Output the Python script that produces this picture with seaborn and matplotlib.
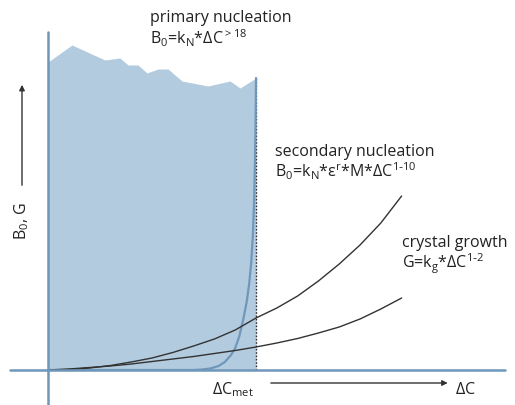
import numpy as np
import pandas as pd
import matplotlib
matplotlib.use("Agg")
import matplotlib.pyplot as plt
import seaborn as sns

# x in units of dC_met, y in arbitrary rate units
top_x = [0.0, 0.115, 0.274, 0.346, 0.385, 0.433, 0.476, 0.529, 0.577, 0.644, 0.769, 0.875, 0.923, 1.0]
top_y = [3.08, 3.25, 3.10, 3.12, 3.05, 3.05, 2.97, 3.01, 3.01, 2.89, 2.84, 2.89, 2.82, 2.92]

prim_x = [0.0, 0.70, 0.74, 0.78, 0.82, 0.85, 0.88, 0.90, 0.92, 0.94, 0.955, 0.967, 0.977, 0.985, 0.991, 0.995, 0.998, 1.0]
prim_y = [0.0, 0.0, 0.005, 0.015, 0.04, 0.08, 0.15, 0.22, 0.34, 0.52, 0.68, 0.86, 1.08, 1.35, 1.70, 2.10, 2.50, 2.92]

sec_x = [0.0, 0.1, 0.2, 0.3, 0.4, 0.5, 0.6, 0.7, 0.8, 0.9, 1.0, 1.1, 1.2, 1.3, 1.4, 1.5, 1.6, 1.7]
sec_y = [0.0, 0.005, 0.02, 0.045, 0.08, 0.12, 0.175, 0.24, 0.31, 0.40, 0.52, 0.62, 0.74, 0.89, 1.06, 1.25, 1.47, 1.74]

grow_x = [0.0, 0.1, 0.2, 0.3, 0.4, 0.5, 0.6, 0.7, 0.8, 0.9, 1.0, 1.1, 1.2, 1.3, 1.4, 1.5, 1.6, 1.7]
grow_y = [0.0, 0.01, 0.025, 0.04, 0.06, 0.085, 0.11, 0.135, 0.165, 0.195, 0.23, 0.27, 0.315, 0.37, 0.43, 0.51, 0.61, 0.72]

met_x = 1.0

LIGHT = "#b3cbdf"
STEEL = "#6f97ba"
DARK = "#333333"

sns.set_style("white")
plt.rcParams["font.family"] = ["Open Sans", "DejaVu Sans"]
plt.rcParams["mathtext.default"] = "regular"

fig = plt.figure(figsize=(5.15, 4.05), dpi=100)
ax = fig.add_axes([0, 0, 1, 1])
ax.set_xlim(-0.2308, 2.245)
ax.set_ylim(-0.35, 3.70)
ax.axis("off")

# primary nucleation region
ax.fill_between(top_x, 0, top_y, color=LIGHT, lw=0, zorder=1)
ax.plot([met_x, met_x], [0, top_y[-1]], ls=(0, (1.2, 1.2)), color=DARK, lw=1, zorder=2)

# axes lines
ax.plot([-0.183, 2.197], [0, 0], color=STEEL, lw=1.8, zorder=4)
ax.plot([0, 0], [-0.35, 3.38], color=STEEL, lw=1.8, zorder=4)

sns.lineplot(x=prim_x, y=prim_y, sort=False, estimator=None, color=STEEL, lw=1.6, ax=ax, zorder=3)
sns.lineplot(x=sec_x, y=sec_y, sort=False, estimator=None, color=DARK, lw=1, ax=ax, zorder=3)
sns.lineplot(x=grow_x, y=grow_y, sort=False, estimator=None, color=DARK, lw=1, ax=ax, zorder=3)

fs = 11.5
tc = "#222222"
ax.text(0.49, 3.48, "primary nucleation", fontsize=fs, color=tc, va="baseline")
ax.text(0.49, 3.255, r"B$_0$=k$_N$*$\Delta$C$^{>18}$", fontsize=fs, color=tc, va="baseline")
ax.text(1.091, 2.14, "secondary nucleation", fontsize=fs, color=tc, va="baseline")
ax.text(1.091, 1.925, r"B$_0$=k$_N$*$\varepsilon^r$*M*$\Delta$C$^{1\text{-}10}$", fontsize=fs, color=tc, va="baseline")
ax.text(1.702, 1.23, "crystal growth", fontsize=fs, color=tc, va="baseline")
ax.text(1.702, 1.015, r"G=k$_g$*$\Delta$C$^{1\text{-}2}$", fontsize=fs, color=tc, va="baseline")

ax.text(0.788, -0.24, r"$\Delta$C$_{met}$", fontsize=fs, color=tc, va="baseline")
ax.text(1.957, -0.24, r"$\Delta$C", fontsize=fs, color=tc, va="baseline")
ax.annotate("", xy=(1.935, -0.13), xytext=(1.058, -0.13),
            arrowprops=dict(arrowstyle="-|>", color=DARK, lw=1, mutation_scale=8))

ax.text(-0.125, 1.49, r"B$_0$, G", fontsize=fs, color=tc, rotation=90, ha="center", va="center")
ax.annotate("", xy=(-0.125, 2.88), xytext=(-0.125, 1.82),
            arrowprops=dict(arrowstyle="-|>", color=DARK, lw=1, mutation_scale=8))

fig.savefig("out.png", dpi=100)
